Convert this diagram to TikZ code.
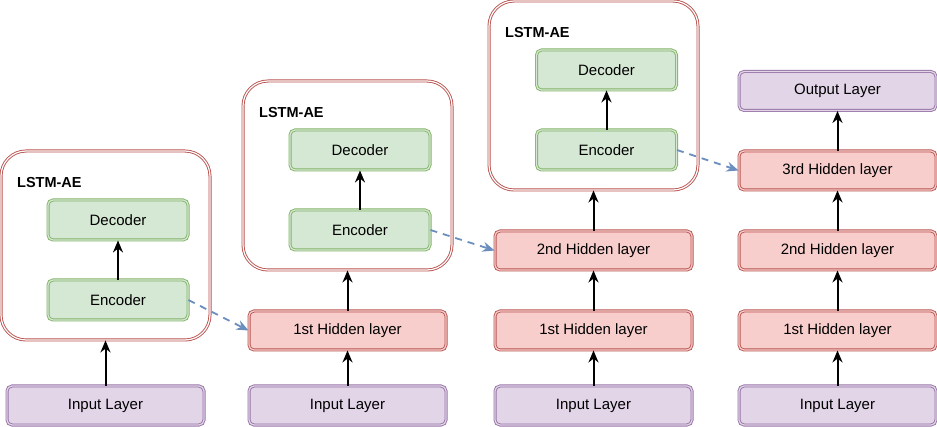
\documentclass[tikz,border=0pt]{standalone}
\usepackage{fontspec}
\setmainfont{Liberation Sans}
\usetikzlibrary{arrows.meta}
\definecolor{pfill}{HTML}{E1D5E7}
\definecolor{pline}{HTML}{9673A6}
\definecolor{rfill}{HTML}{F8CECC}
\definecolor{rline}{HTML}{B85450}
\definecolor{gfill}{HTML}{D5E8D4}
\definecolor{gline}{HTML}{82B366}
\definecolor{bline}{HTML}{6C8EBF}
\tikzset{
  base/.style={rounded corners=5pt, line width=0.9pt, double distance=1.2pt, inner sep=0pt,
    font=\fontsize{15}{17}\selectfont, text=black},
  layerbox/.style={base, draw=pline, double=pfill, fill=pfill, minimum width=197pt, minimum height=39pt},
  hidbox/.style={base, draw=rline, double=rfill, fill=rfill, minimum width=197pt, minimum height=39pt},
  aebox/.style={base, draw=gline, double=gfill, fill=gfill, minimum width=140pt, minimum height=40pt},
  lstmbox/.style={rounded corners=25pt, line width=0.9pt, double distance=1.2pt, draw=rline, double=white, fill=white, inner sep=0pt, minimum width=209pt, minimum height=189pt},
  lbl/.style={anchor=west, inner sep=0pt, font=\fontsize{14.5}{16}\selectfont\bfseries},
  arr/.style={-{Stealth[length=12pt,width=10pt]}, line width=2pt, black},
  darr/.style={-{Stealth[length=12pt,width=10pt]}, line width=1.8pt, bline, dash pattern=on 7pt off 6pt},
}
\begin{document}
\begin{tikzpicture}[x=1pt,y=-1pt]
\useasboundingbox (0,0) rectangle (937,427);
% column 1
\node[lstmbox] (ae1) at (105.5,245.5) {};
\node[lbl] (l1) at (17,183) {LSTM-AE};
\node[aebox] (enc1) at (118,300) {Encoder};
\node[aebox] (dec1) at (118,220) {Decoder};
\node[layerbox] (in1) at (105.5,405.5) {Input Layer};
\draw[arr] (in1.north) -- (ae1.south -| in1.north);
\draw[arr] (enc1) -- (dec1);
% column 2
\node[lstmbox] (ae2) at (347.5,175.5) {};
\node[lbl] (l2) at (259,113) {LSTM-AE};
\node[aebox] (enc2) at (360,230) {Encoder};
\node[aebox] (dec2) at (360,150) {Decoder};
\node[hidbox] (h21) at (347.5,330.5) {1st Hidden layer};
\node[layerbox] (in2) at (347.5,405.5) {Input Layer};
\draw[arr] (in2) -- (h21);
\draw[arr] (h21.north) -- (ae2.south -| h21.north);
\draw[arr] (enc2) -- (dec2);
% column 3
\node[lstmbox] (ae3) at (593.5,95.5) {};
\node[lbl] (l3) at (505,33) {LSTM-AE};
\node[aebox] (enc3) at (606.5,150) {Encoder};
\node[aebox] (dec3) at (606.5,70) {Decoder};
\node[hidbox] (h32) at (593.5,250.5) {2nd Hidden layer};
\node[hidbox] (h31) at (593.5,330.5) {1st Hidden layer};
\node[layerbox] (in3) at (593.5,405.5) {Input Layer};
\draw[arr] (in3) -- (h31);
\draw[arr] (h31) -- (h32);
\draw[arr] (h32.north) -- (ae3.south -| h32.north);
\draw[arr] (enc3) -- (dec3);
% column 4
\node[layerbox] (out4) at (837.5,91) {Output Layer};
\node[hidbox] (h43) at (837.5,170.5) {3rd Hidden layer};
\node[hidbox] (h42) at (837.5,250.5) {2nd Hidden layer};
\node[hidbox] (h41) at (837.5,330.5) {1st Hidden layer};
\node[layerbox] (in4) at (837.5,405.5) {Input Layer};
\draw[arr] (in4) -- (h41);
\draw[arr] (h41) -- (h42);
\draw[arr] (h42) -- (h43);
\draw[arr] (h43) -- (out4);
% dashed links
\draw[darr] (enc1.east) -- (h21.west);
\draw[darr] (enc2.east) -- (h32.west);
\draw[darr] (enc3.east) -- (h43.west);
\end{tikzpicture}
\end{document}
